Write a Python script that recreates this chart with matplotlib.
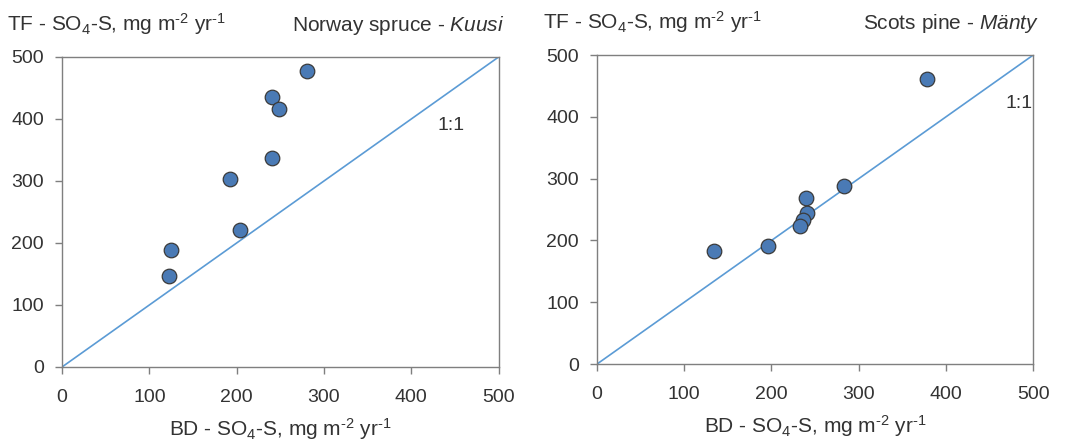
import matplotlib
matplotlib.use("Agg")
import matplotlib.pyplot as plt

# Bulk deposition (BD) vs. throughfall (TF) sulphate-sulphur, mg m-2 yr-1
spruce_bd = [280, 241, 248, 240, 192, 204, 125, 122]
spruce_tf = [478, 436, 416, 337, 303, 221, 189, 147]

pine_bd = [378, 283, 240, 241, 236, 233, 196, 134]
pine_tf = [461, 288, 269, 244, 233, 224, 191, 183]

ticks = [0, 100, 200, 300, 400, 500]

plt.rcParams["font.family"] = ["Liberation Sans", "DejaVu Sans"]
plt.rcParams["mathtext.fontset"] = "custom"
plt.rcParams["mathtext.rm"] = "Liberation Sans"
plt.rcParams["mathtext.it"] = "Liberation Sans:italic"

TEXT = "#333333"
SPINE = "#7f7f7f"
LINE = "#5b9bd5"
FACE = "#4a7ab5"
EDGE = "#3a3a3a"
FS = 14
LFS = 15

fig = plt.figure(figsize=(10.7, 4.4), dpi=100)

panels = [
    ([0.058, 0.166, 0.408, 0.7045], spruce_bd, spruce_tf,
     "Norway spruce - $\\mathit{Kuusi}$", (446, 390)),
    ([0.558, 0.1727, 0.4075, 0.702], pine_bd, pine_tf,
     "Scots pine - $\\mathit{Mänty}$", (484, 422)),
]

ylabel = "TF - SO$_4$-S, mg m$^{\\text{-2}}$ yr$^{\\text{-1}}$"
xlabel = "BD - SO$_4$-S, mg m$^{\\text{-2}}$ yr$^{\\text{-1}}$"

for rect, bd, tf, title, one_pos in panels:
    ax = fig.add_axes(rect)
    ax.plot([0, 500], [0, 500], color=LINE, lw=1.2, zorder=2)
    ax.scatter(bd, tf, s=110, color=FACE, edgecolor=EDGE, linewidth=0.9,
               zorder=3, clip_on=False)
    ax.set_xlim(0, 500)
    ax.set_ylim(0, 500)
    ax.set_xticks(ticks)
    ax.set_yticks(ticks)
    for s in ax.spines.values():
        s.set_color(SPINE)
        s.set_linewidth(1.0)
    ax.tick_params(direction="out", length=5, width=1.0, color=SPINE,
                   labelsize=FS, labelcolor=TEXT)
    ax.tick_params(axis="y", pad=8)
    ax.tick_params(axis="x", pad=11)
    ax.text(one_pos[0], one_pos[1], "1:1", ha="center", va="center",
            fontsize=FS, color=TEXT)
    ax.set_xlabel(xlabel, fontsize=LFS, color=TEXT, labelpad=7)
    # y-axis title sits above the top-left corner, species name top-right
    ax.text(-0.125, 1.065, ylabel, transform=ax.transAxes, ha="left",
            va="bottom", fontsize=LFS, color=TEXT)
    ax.text(1.013, 1.065, title, transform=ax.transAxes, ha="right",
            va="bottom", fontsize=LFS, color=TEXT)

fig.savefig("out.png", dpi=100)
